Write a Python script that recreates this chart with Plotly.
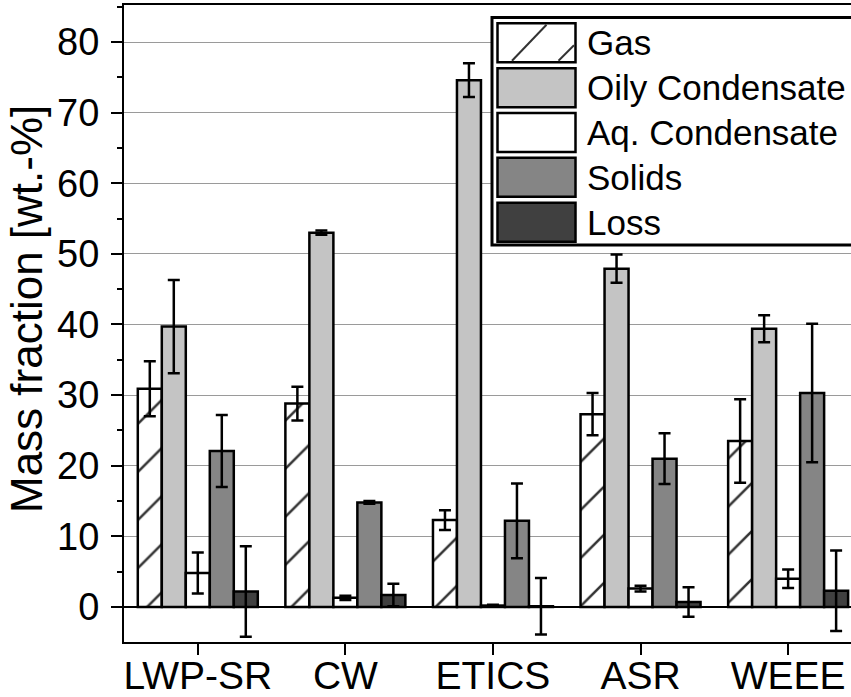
import plotly.graph_objects as go

categories = ["LWP-SR", "CW", "ETICS", "ASR", "WEEE"]
series_names = ["Gas", "Oily Condensate", "Aq. Condensate", "Solids", "Loss"]

gas = [30.9, 28.8, 12.3, 27.3, 23.5]
gas_err = [3.9, 2.4, 1.4, 3.0, 5.9]
oily = [39.7, 53.0, 74.6, 47.9, 39.4]
oily_err = [6.6, 0.3, 2.4, 2.0, 1.9]
aq = [4.8, 1.3, 0.2, 2.6, 4.0]
aq_err = [2.9, 0.3, 0.1, 0.4, 1.3]
solids = [22.1, 14.8, 12.2, 21.0, 30.3]
solids_err = [5.1, 0.2, 5.3, 3.6, 9.8]
loss = [2.2, 1.7, 0.1, 0.7, 2.3]
loss_err = [6.4, 1.6, 4.0, 2.1, 5.7]

y_ticks = [0, 10, 20, 30, 40, 50, 60, 70, 80]
y_title = "Mass fraction [wt.-%]"

FONT = "Liberation Sans, Arial, sans-serif"
W, H = 851, 697
ML, MR, MT, MB = 124, 0, 5, 55
PW, PH = W - ML - MR, H - MT - MB

values = [gas, oily, aq, solids, loss]
errors = [gas_err, oily_err, aq_err, solids_err, loss_err]
fills = ["white", "#c4c4c4", "white", "#858585", "#404040"]

fig = go.Figure()
for i, (name, v, e, c) in enumerate(zip(series_names, values, errors, fills)):
    marker = dict(color=c, line=dict(color="black", width=2.5))
    if i == 0:
        marker["pattern"] = dict(shape="/", size=34, solidity=0.075,
                                 fgcolor="#333333", bgcolor="white", fgopacity=1)
    fig.add_trace(go.Bar(
        x=categories, y=v, name=name, marker=marker,
        error_y=dict(type="data", array=e, visible=True, color="black",
                     thickness=2.5, width=6),
        showlegend=False,
    ))


def px_x(px):
    return (px - ML) / PW


def px_y(py):
    return (H - MB - py) / PH


shapes = []
annotations = []
# legend frame
shapes.append(dict(type="rect", xref="paper", yref="paper",
                   x0=px_x(492), x1=px_x(870), y0=px_y(245), y1=px_y(17.5),
                   line=dict(color="black", width=3), fillcolor="white",
                   layer="above"))
top0 = 23.3
step = 44.85
for i, (name, c) in enumerate(zip(series_names, fills)):
    t = top0 + i * step
    b = t + 39
    shapes.append(dict(type="rect", xref="paper", yref="paper",
                       x0=px_x(497.5), x1=px_x(575.5), y0=px_y(b), y1=px_y(t),
                       line=dict(color="black", width=2.5), fillcolor=c,
                       layer="above"))
    if i == 0:
        # hatch lines inside the Gas legend key
        shapes.append(dict(type="line", xref="paper", yref="paper",
                           x0=px_x(512), y0=px_y(b - 1.5), x1=px_x(546.5), y1=px_y(t + 1.5),
                           line=dict(color="#333333", width=2), layer="above"))
        shapes.append(dict(type="line", xref="paper", yref="paper",
                           x0=px_x(558.5), y0=px_y(b - 1.5), x1=px_x(574), y1=px_y(b - 17),
                           line=dict(color="#333333", width=2), layer="above"))
    annotations.append(dict(xref="paper", yref="paper", x=px_x(585),
                            y=px_y((t + b) / 2), text=name, showarrow=False,
                            xanchor="left", yanchor="middle",
                            font=dict(family=FONT, size=35, color="black")))

# y-axis title
annotations.append(dict(xref="paper", yref="paper", x=px_x(26), y=px_y(309),
                        text=y_title, textangle=-90, showarrow=False,
                        xanchor="center", yanchor="middle",
                        font=dict(family=FONT, size=44, color="black")))

fig.update_layout(
    width=W, height=H,
    margin=dict(l=ML, r=MR, t=MT, b=MB, autoexpand=False),
    paper_bgcolor="white", plot_bgcolor="white",
    barmode="group", bargap=0.187, bargroupgap=0,
    font=dict(family=FONT, color="black"),
    shapes=shapes, annotations=annotations,
    showlegend=False,
)
fig.update_xaxes(
    type="category", range=[-0.5, 4.426],
    showgrid=False, showline=True, linecolor="black", linewidth=2, mirror=True,
    ticks="outside", ticklen=11, tickwidth=2, tickcolor="black",
    tickfont=dict(family=FONT, size=39, color="black"),
    ticklabelstandoff=-13,
    automargin=False,
)
fig.update_yaxes(
    range=[-4.96, 85.24], tickvals=y_ticks,
    showgrid=True, gridcolor="#9a9a9a", gridwidth=1,
    zeroline=True, zerolinecolor="black", zerolinewidth=2,
    showline=True, linecolor="black", linewidth=2,
    ticks="outside", ticklen=11, tickwidth=2, tickcolor="black",
    minor=dict(dtick=5, tick0=0, ticks="outside", ticklen=5, tickwidth=2,
               tickcolor="black", showgrid=False),
    tickfont=dict(family=FONT, size=38, color="black"),
    ticklabelstandoff=4,
    automargin=False,
)

fig.write_html(
    "out.html",
    config={"displayModeBar": False},
    post_script="document.body.style.margin='0';document.body.style.overflow='hidden';",
)
